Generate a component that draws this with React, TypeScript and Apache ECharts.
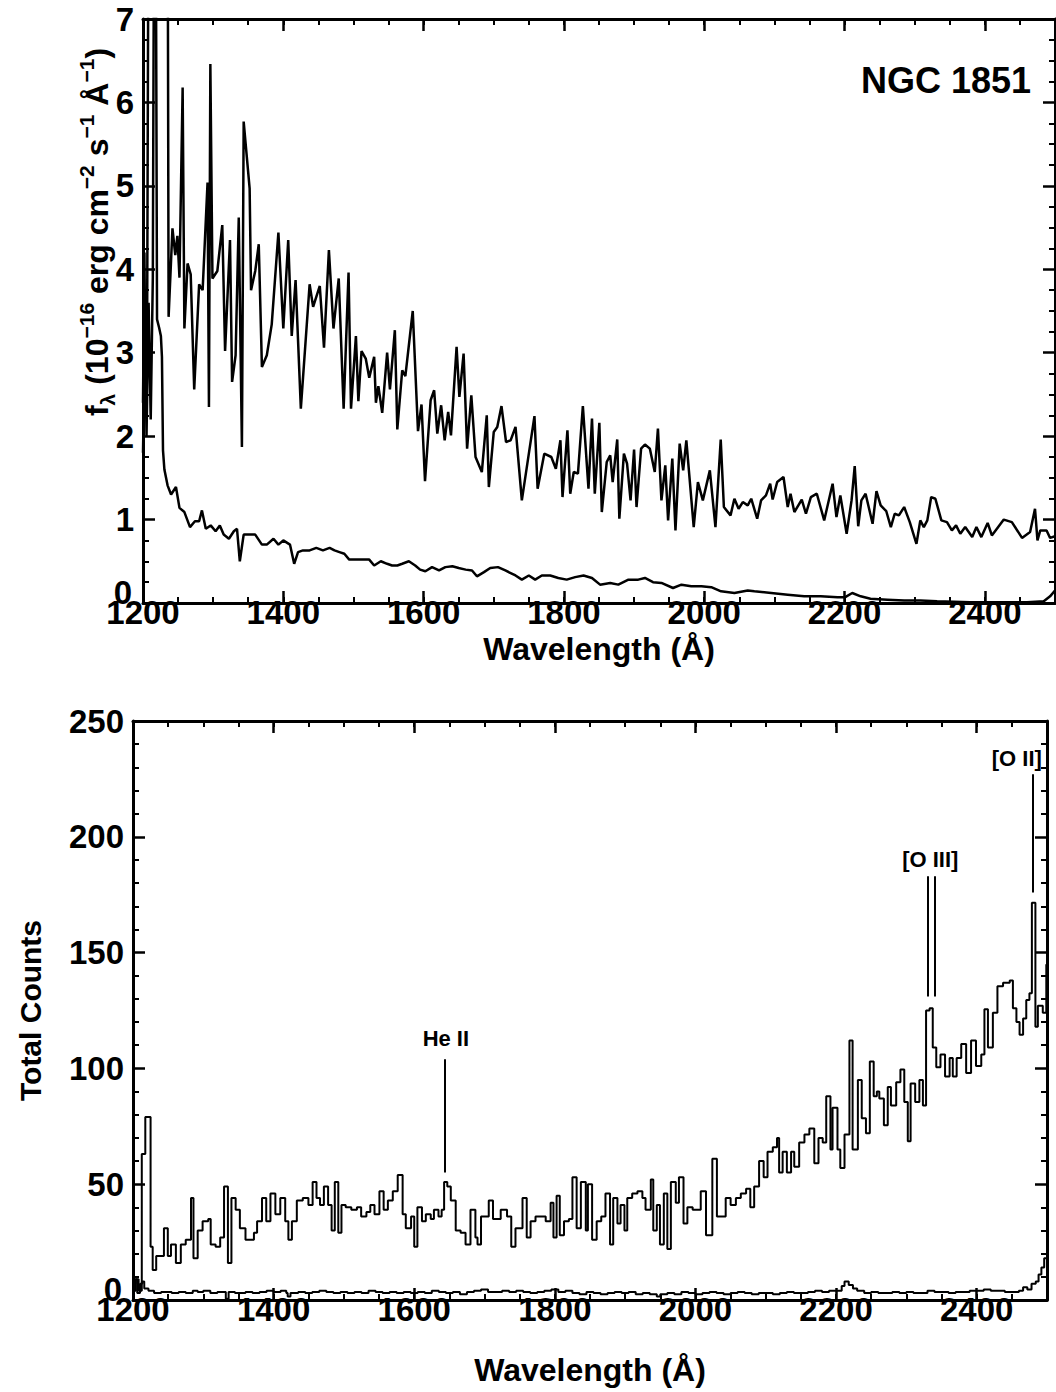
import { useEffect, useRef } from "react";
import * as echarts from "echarts";

const FONT = "'Liberation Sans', Arial, Helvetica, sans-serif";

// Top panel: flux spectrum (noisy) and lower spectrum
const fluxSpectrum: [number, number][] = [
  [1200, 2.4], [1202, 4.2], [1204, 2.3], [1206, 3.6], [1208, 9], [1235, 9], [1236.5, 3.43], [1242, 4.49], [1246, 4.17], [1249, 4.4], [1252, 3.9], [1256.5, 6.18], [1259, 3.29], [1263.5, 4.07], [1268, 3.94], [1273, 2.56], [1280, 3.82], [1285, 3.75], [1292, 5.04], [1294, 2.35], [1296, 6.46], [1299, 3.89], [1306, 3.98], [1313, 4.53], [1317, 3.02], [1324, 4.35], [1327, 2.65], [1332, 2.97], [1336.5, 4.62], [1341, 1.87], [1343.5, 5.77], [1352, 4.97], [1354, 3.75], [1360, 3.98], [1365, 4.3], [1369.5, 2.83], [1376.5, 2.97], [1383.5, 3.34], [1393, 4.44], [1400, 3.29], [1407, 4.35], [1412, 3.2], [1417.5, 3.87], [1425, 2.33], [1437.5, 3.82], [1442.5, 3.55], [1452, 3.8], [1458, 3.06], [1465, 4.23], [1471.5, 3.29], [1479, 3.89], [1486, 2.33], [1493, 3.96], [1496.5, 2.33], [1503.5, 3.2], [1507, 2.42], [1511.5, 3.02], [1517.5, 2.93], [1522.5, 2.7], [1529.5, 2.95], [1532, 2.4], [1535.5, 2.6], [1541, 2.28], [1548, 3.0], [1552, 2.56], [1559, 3.27], [1562.5, 2.08], [1569.5, 2.79], [1574, 2.72], [1584.5, 3.5], [1592, 2.06], [1597, 2.38], [1602, 1.46], [1610, 2.43], [1615, 2.55], [1619.5, 2.03], [1625, 2.37], [1630, 1.95], [1635, 2.29], [1639, 2.01], [1647, 3.07], [1651, 2.47], [1657, 2.99], [1662, 1.85], [1668, 2.49], [1674, 1.75], [1683, 1.57], [1690, 2.25], [1693, 1.39], [1700, 2.05], [1705, 2.11], [1711, 2.36], [1717.5, 1.93], [1724, 1.95], [1731, 2.11], [1740, 1.23], [1758, 2.24], [1762.5, 1.37], [1772, 1.79], [1782, 1.75], [1788.5, 1.61], [1795, 1.95], [1798, 1.27], [1805, 2.07], [1809, 1.31], [1814, 1.57], [1820, 1.55], [1827, 2.36], [1835, 1.37], [1840, 2.21], [1844, 1.31], [1850.5, 2.16], [1854, 1.09], [1861, 1.69], [1866, 1.77], [1869.5, 1.45], [1876, 1.96], [1879, 1.01], [1885.5, 1.79], [1890, 1.67], [1895, 1.23], [1900, 1.84], [1903.5, 1.15], [1910, 1.85], [1915.5, 1.9], [1922.5, 1.85], [1929.5, 1.57], [1934, 2.09], [1939, 1.23], [1944.5, 1.65], [1948.5, 0.99], [1954.5, 1.73], [1959, 0.87], [1965, 1.91], [1970, 1.59], [1974.5, 1.95], [1985, 0.91], [1991, 1.45], [1998, 1.23], [2008, 1.59], [2016, 0.91], [2023.5, 1.96], [2028, 1.15], [2037.5, 1.05], [2043, 1.25], [2049, 1.13], [2055, 1.21], [2062, 1.17], [2067, 1.25], [2075.5, 1.01], [2081, 1.23], [2088, 1.29], [2094, 1.43], [2097.5, 1.24], [2104, 1.45], [2113, 1.51], [2119, 1.15], [2123, 1.31], [2128.5, 1.09], [2139, 1.24], [2145, 1.07], [2152, 1.27], [2160.5, 1.31], [2171, 0.99], [2183, 1.43], [2188.5, 1.03], [2194, 1.29], [2203, 0.83], [2210, 1.23], [2214.5, 1.64], [2219.5, 0.92], [2224, 1.23], [2230, 1.31], [2240, 0.95], [2245.5, 1.34], [2251.5, 1.17], [2259.5, 1.1], [2266, 0.91], [2271.5, 1.07], [2277.5, 1.05], [2285, 1.15], [2293, 0.97], [2302.5, 0.71], [2308, 0.99], [2313, 0.91], [2318, 0.99], [2323.5, 1.27], [2329.5, 1.25], [2338, 0.99], [2346, 0.97], [2353, 0.87], [2359, 0.93], [2365, 0.83], [2372, 0.91], [2382, 0.79], [2388, 0.91], [2395, 0.79], [2404, 0.96], [2410, 0.81], [2427, 1.0], [2438.5, 0.97], [2453, 0.78], [2464.5, 0.85], [2471.5, 1.13], [2475, 0.75], [2479, 0.87], [2488, 0.87], [2493, 0.78], [2500, 0.8],
];

const fluxLower: [number, number][] = [
  [1200, 1.8], [1203, 3.3], [1205, 2.0], [1208, 3.6], [1211, 2.2], [1214, 3.9], [1216, 9], [1218, 9], [1220, 3.4], [1223, 3.3], [1225.5, 3.2], [1227, 2.95], [1228.5, 1.83], [1230.5, 1.6], [1235, 1.41], [1240, 1.3], [1247, 1.39], [1252, 1.14], [1259, 1.09], [1267, 0.91], [1274, 0.98], [1280, 0.98], [1284, 1.11], [1289.5, 0.89], [1296.5, 0.93], [1303.5, 0.86], [1309.5, 0.93], [1315, 0.82], [1322.5, 0.77], [1329.5, 0.86], [1334, 0.89], [1338, 0.5], [1343.5, 0.82], [1353, 0.82], [1360, 0.82], [1369.5, 0.7], [1376.5, 0.7], [1386, 0.77], [1393, 0.7], [1400, 0.75], [1409.5, 0.7], [1415.5, 0.47], [1421, 0.61], [1428, 0.63], [1437.5, 0.63], [1447, 0.66], [1456.5, 0.63], [1466, 0.66], [1473, 0.63], [1480, 0.61], [1487, 0.59], [1494, 0.52], [1503.5, 0.52], [1513, 0.52], [1522.5, 0.52], [1529.5, 0.45], [1539, 0.5], [1548, 0.47], [1555, 0.45], [1562.5, 0.45], [1569.5, 0.47], [1579, 0.5], [1588, 0.45], [1595, 0.4], [1602.5, 0.38], [1612, 0.43], [1622, 0.39], [1631, 0.43], [1641, 0.44], [1650, 0.42], [1660, 0.4], [1669, 0.39], [1676, 0.32], [1686, 0.37], [1695, 0.42], [1706, 0.43], [1716.5, 0.39], [1731, 0.33], [1740, 0.28], [1750, 0.33], [1759, 0.28], [1768.5, 0.33], [1780.5, 0.33], [1792, 0.3], [1804, 0.28], [1816, 0.31], [1828, 0.33], [1840, 0.3], [1851.5, 0.22], [1866, 0.24], [1877.5, 0.22], [1892, 0.28], [1906, 0.28], [1915.5, 0.3], [1927, 0.25], [1939, 0.24], [1955.5, 0.18], [1967.5, 0.22], [1981.5, 0.2], [1996, 0.2], [2010, 0.19], [2024, 0.14], [2043, 0.12], [2062, 0.15], [2071.5, 0.14], [2095.5, 0.12], [2119, 0.1], [2142.5, 0.08], [2166, 0.08], [2190, 0.07], [2201, 0.07], [2211, 0.12], [2223, 0.08], [2237, 0.05], [2261, 0.04], [2285, 0.03], [2308, 0.03], [2332, 0.02], [2379, 0.01], [2427, 0.01], [2460, 0.01], [2484, 0.02], [2493, 0.08], [2500, 0.15],
];

// Bottom panel: total counts (histogram, bin start wavelength) and background
const countsSpectrum: [number, number][] = [
  [1200, 4], [1204, 9], [1208, 4], [1212.5, 63], [1217.5, 79], [1225, 23], [1228, 13], [1233, 19], [1244, 31], [1249.5, 19], [1254, 24], [1261, 16], [1268, 24], [1275, 26], [1282.5, 44], [1286, 18], [1292, 30], [1299, 34], [1307, 35], [1310.5, 24], [1317.5, 23], [1324, 27], [1329.5, 49], [1335, 16], [1340, 44], [1346, 39], [1352, 31], [1360, 26], [1372, 29], [1376.5, 34], [1383.5, 44], [1389.5, 34], [1395.5, 46], [1402.5, 37], [1409.5, 44], [1416.5, 34], [1421, 26], [1426, 34], [1433, 43], [1441.5, 44], [1449.5, 41], [1455.5, 51], [1461, 44], [1466, 41], [1471.5, 49], [1477.5, 41], [1482.5, 30], [1487, 51], [1492, 29], [1496.5, 41], [1502.5, 40], [1510.5, 39], [1518.5, 40], [1524.5, 36], [1532, 38], [1537.5, 41], [1543.5, 37], [1550.5, 47], [1556.5, 39], [1562.5, 43], [1569.5, 47], [1576.5, 54], [1583.5, 37], [1588, 31], [1595.5, 36], [1600, 23], [1604.5, 40], [1611, 34], [1616.5, 37], [1623.5, 35], [1628, 39], [1634.5, 36], [1639, 39], [1642.5, 51], [1647, 49], [1652, 43], [1659, 30], [1666, 29], [1673, 24], [1680, 39], [1687, 27], [1690, 24], [1695, 36], [1706, 43], [1712, 35], [1723, 39], [1732, 36], [1738, 23], [1744, 31], [1754, 44], [1760, 27], [1765.5, 34], [1772.5, 36], [1787, 34], [1794, 42], [1798, 27], [1802.5, 45], [1807, 28], [1813, 34], [1820, 35], [1825, 53], [1831, 31], [1837, 51], [1844, 30], [1847, 50], [1853, 26], [1859.5, 34], [1866, 36], [1872, 46], [1878.5, 24], [1883, 44], [1889, 33], [1893.5, 41], [1899, 30], [1903, 44], [1910, 46], [1917.5, 47], [1924.5, 44], [1929, 39], [1936.5, 52], [1940, 30], [1945, 41], [1949.5, 24], [1955, 46], [1960, 22], [1965, 51], [1972, 42], [1976.5, 53], [1983, 33], [1988.5, 40], [1996, 39], [2007.5, 47], [2015, 28], [2024, 61], [2030.5, 36], [2037, 36], [2043, 44], [2050, 41], [2057.5, 44], [2064.5, 46], [2072, 48], [2078, 40], [2083.5, 49], [2090.5, 60], [2097, 53], [2102.5, 64], [2110, 66], [2116, 70], [2119, 55], [2124, 64], [2130, 55], [2136, 64], [2140.5, 57.5], [2147.5, 68], [2155, 71.5], [2162, 74], [2169, 59], [2175, 70], [2181, 68], [2186, 88], [2192, 65], [2195, 83], [2202, 65], [2206, 57], [2212, 71.5], [2219, 112], [2223.5, 65], [2231, 95], [2236.5, 78.5], [2242.5, 72], [2248, 103], [2253.5, 88], [2258, 90], [2261.5, 87], [2268, 75.5], [2273.5, 92], [2278, 84], [2285.5, 94], [2291.5, 99.5], [2297, 85.5], [2302, 68.5], [2306, 93.5], [2312.5, 85.5], [2318.5, 95], [2323.5, 84], [2328, 125], [2333, 126], [2337.5, 109], [2342.5, 100.5], [2348.5, 106], [2355, 96.5], [2361.5, 104.5], [2366, 96.5], [2371.5, 104.5], [2378, 110.5], [2385, 98], [2392, 112], [2399, 101], [2406.5, 106], [2411, 125.5], [2416, 109], [2423, 124], [2429.5, 135.5], [2437.5, 137], [2447, 138], [2451.5, 126], [2456.5, 120], [2461, 114.5], [2466, 121.5], [2470.5, 129.5], [2475, 132.5], [2478.5, 171.5], [2483.5, 118], [2487, 127], [2494, 124], [2499, 145], [2500, 145],
];

const countsBackground: [number, number][] = [
  [1200, 7], [1203, 9], [1206, 3], [1210, 7], [1213, 8], [1216, 5], [1222, 4], [1230, 3], [1240, 3.5], [1255, 3], [1265, 3.5], [1275, 3], [1285, 4], [1292, 3.5], [1300, 4], [1310, 3], [1320, 3.5], [1328, 3.5], [1332, 0.5], [1336, 3.5], [1345, 3], [1360, 3.5], [1370, 3], [1380, 3.5], [1390, 4], [1400, 3.5], [1410, 4], [1418, 3], [1420, 1.5], [1424, 3], [1435, 3.5], [1445, 3], [1455, 3.5], [1465, 4], [1475, 3.5], [1485, 3], [1495, 3.5], [1505, 3], [1515, 3.5], [1525, 3], [1535, 4], [1545, 3.5], [1555, 3], [1565, 3.5], [1575, 3], [1585, 3.5], [1595, 3], [1605, 3.5], [1615, 3], [1625, 4], [1635, 3.5], [1645, 3], [1655, 3.5], [1665, 2.5], [1675, 3.5], [1685, 4], [1695, 4.5], [1705, 3.5], [1715, 3.5], [1725, 4], [1735, 3.5], [1745, 4], [1755, 3.5], [1765, 3], [1775, 3.5], [1785, 4], [1795, 4.5], [1805, 3.5], [1815, 4], [1825, 3], [1835, 2.5], [1845, 3.5], [1855, 3], [1865, 2.5], [1875, 3], [1885, 3.5], [1895, 3], [1905, 3.5], [1915, 2.5], [1925, 3], [1935, 2.5], [1945, 1.5], [1950, 2.5], [1960, 3], [1970, 2.5], [1980, 3.5], [1990, 3], [2000, 2.5], [2010, 3], [2020, 3.5], [2030, 3], [2040, 2.5], [2050, 3], [2060, 3.5], [2070, 3], [2080, 2.5], [2090, 3], [2100, 3], [2110, 2.5], [2120, 3], [2130, 3.5], [2140, 3], [2150, 3], [2160, 3.5], [2170, 4], [2180, 3.5], [2190, 4], [2200, 4], [2208, 6], [2212, 8], [2218, 6.5], [2224, 5], [2230, 4], [2240, 3], [2250, 3.5], [2260, 3], [2270, 3], [2280, 3.5], [2290, 3], [2300, 3.5], [2310, 3], [2320, 3], [2330, 4], [2340, 3.5], [2350, 3.5], [2360, 3], [2370, 3.5], [2380, 3.5], [2390, 4], [2400, 4], [2410, 4.5], [2420, 4], [2430, 4], [2440, 3.5], [2450, 3.5], [2460, 4], [2466, 5.5], [2472, 4.5], [2478, 7], [2484, 8], [2488, 11], [2492, 14], [2496, 18], [2500, 18],
];

// Emission line identifications
const lineNames = ["He II", "[O III]", "[O II]"];
const lineLabelX = [1645, 2334, 2457];
const lineLabelY = [113, 190, 234];
const markerX = [1644, 2330, 2340, 2480];
const markerY0 = [55, 131, 131, 176];
const markerY1 = [104, 183, 183, 227];

const waveMin = 1200;
const waveMax = 2500;

export default function App() {
  const ref = useRef<HTMLDivElement>(null);

  useEffect(() => {
    if (!ref.current) return;
    const chart = echarts.init(ref.current, null, { renderer: "svg" });

    const black = "#000";
    const axisLine = { show: true, lineStyle: { color: black, width: 3 } };
    const majorTick = { show: true, inside: true, length: 12, lineStyle: { color: black, width: 2.5 } };
    const minorTickX = { show: true, inside: true, length: 6, lineStyle: { color: black, width: 2 } };
    const labelStyle = { color: black, fontSize: 33, fontWeight: "bold", fontFamily: FONT };

    const xAxesFor = (g: number, nameGap: number) => [
      {
        type: "value", gridIndex: g, position: "bottom", min: waveMin, max: waveMax, interval: 200,
        axisLine, axisTick: majorTick, splitLine: { show: false },
        axisLabel: { ...labelStyle, margin: -7, showMaxLabel: false, formatter: (v: number) => String(v) },
        name: "Wavelength (Å)", nameLocation: "middle", nameGap,
        nameTextStyle: { color: black, fontSize: 32, fontWeight: "bold", fontFamily: FONT },
      },
      {
        type: "value", gridIndex: g, position: "bottom", min: waveMin, max: waveMax, interval: 50,
        axisLine: { show: false }, axisTick: minorTickX, axisLabel: { show: false }, splitLine: { show: false },
      },
      {
        type: "value", gridIndex: g, position: "top", min: waveMin, max: waveMax, interval: 200,
        axisLine, axisTick: majorTick, axisLabel: { show: false }, splitLine: { show: false },
      },
      {
        type: "value", gridIndex: g, position: "top", min: waveMin, max: waveMax, interval: 50,
        axisLine: { show: false }, axisTick: minorTickX, axisLabel: { show: false }, splitLine: { show: false },
      },
    ];

    const yAxisPair = (g: number, max: number, interval: number, split: number, extra: any) => [
      {
        type: "value", gridIndex: g, position: "left", min: 0, max, interval,
        axisLine, axisTick: majorTick,
        minorTick: { show: true, splitNumber: split, length: 6, lineStyle: { color: black, width: 2 } },
        splitLine: { show: false }, minorSplitLine: { show: false },
        axisLabel: {
          ...labelStyle, margin: 9,
          formatter: (v: number) => (v === 0 ? "{z|0}" : String(v)),
          rich: { z: { ...labelStyle, padding: [0, 2, 22, 0] } },
        },
        ...extra,
      },
      {
        type: "value", gridIndex: g, position: "right", min: 0, max, interval,
        axisLine, axisTick: majorTick,
        minorTick: { show: true, splitNumber: split, length: 6, lineStyle: { color: black, width: 2 } },
        splitLine: { show: false }, minorSplitLine: { show: false },
        axisLabel: { show: false },
      },
    ];

    const option: any = {
      animation: false,
      backgroundColor: "#fff",
      title: {
        text: "NGC 1851", right: 20, top: 57,
        textStyle: { color: black, fontSize: 36, fontWeight: "bold", fontFamily: FONT },
      },
      grid: [
        { left: 143, top: 19, width: 912, height: 584 },
        { left: 133, top: 721, width: 914, height: 579 },
      ],
      xAxis: [...xAxesFor(0, 30), ...xAxesFor(1, 54)],
      yAxis: [
        ...yAxisPair(0, 7, 1, 4, {}),
        ...yAxisPair(1, 250, 50, 5, {
          name: "Total Counts", nameLocation: "middle", nameRotate: 90, nameGap: 88,
          nameTextStyle: { color: black, fontSize: 30, fontWeight: "bold", fontFamily: FONT },
        }),
      ],
      graphic: [
        {
          type: "text", x: 97, y: 232, rotation: Math.PI / 2,
          style: {
            text: "{n|f}{b|λ}{n| (10}{p|−16}{n| erg cm}{p|−2}{n| s}{p|−1}{n| Å}{p|−1}{n|)}",
            align: "center", verticalAlign: "middle", fill: black,
            rich: {
              n: { fontSize: 32, lineHeight: 42, fontWeight: "bold", fontFamily: FONT, fill: black },
              p: { fontSize: 21, lineHeight: 22, fontWeight: "bold", fontFamily: FONT, verticalAlign: "top", fill: black },
              b: { fontSize: 21, lineHeight: 22, fontWeight: "bold", fontFamily: FONT, verticalAlign: "bottom", fill: black },
            },
          },
        },
      ],
      series: [
        {
          type: "line", xAxisIndex: 0, yAxisIndex: 0, data: fluxSpectrum, showSymbol: false, symbol: "none",
          lineStyle: { color: black, width: 2.5 }, clip: true, z: 3,
        },
        {
          type: "line", xAxisIndex: 0, yAxisIndex: 0, data: fluxLower, showSymbol: false, symbol: "none",
          lineStyle: { color: black, width: 2.5 }, clip: true, z: 3,
        },
        {
          type: "line", xAxisIndex: 4, yAxisIndex: 2, data: countsSpectrum, step: "end", showSymbol: false, symbol: "none",
          lineStyle: { color: black, width: 2 }, clip: true, z: 3,
        },
        {
          type: "line", xAxisIndex: 4, yAxisIndex: 2, data: countsBackground, step: "end", showSymbol: false, symbol: "none",
          lineStyle: { color: black, width: 2 }, clip: true, z: 3,
        },
        {
          type: "scatter", xAxisIndex: 4, yAxisIndex: 2, symbolSize: 1,
          itemStyle: { color: "#fff", opacity: 1 },
          data: lineNames.map((n, i) => [lineLabelX[i], lineLabelY[i], n]),
          label: {
            show: true, position: "inside", formatter: (p: any) => p.value[2],
            color: black, opacity: 1, fontSize: 22, fontWeight: "bold", fontFamily: FONT,
            textBorderWidth: 0,
          },
          markLine: {
            silent: true, symbol: ["none", "none"], label: { show: false },
            lineStyle: { color: black, width: 2, type: "solid", opacity: 1 },
            data: markerX.map((x, i) => [{ coord: [x, markerY0[i]] }, { coord: [x, markerY1[i]] }]),
          },
          z: 4,
        },
      ],
    };

    chart.setOption(option);
    return () => chart.dispose();
  }, []);

  return (
    <div
      ref={ref}
      style={{ position: "absolute", left: 0, top: 0, width: 1056, height: 1392, background: "#fff" }}
    />
  );
}
